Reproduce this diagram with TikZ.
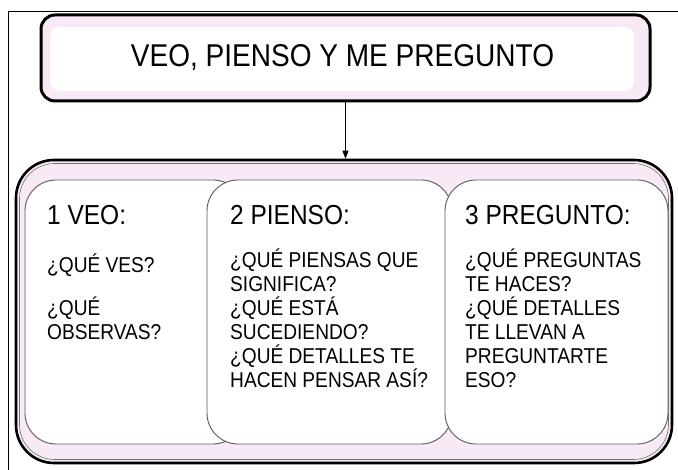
\documentclass[tikz,border=0pt]{standalone}
\usepackage{fontspec}
\setmainfont[FakeStretch=0.89]{Liberation Sans}
\usetikzlibrary{arrows.meta}
\definecolor{pinkfill}{RGB}{248,233,246}
\definecolor{boxgray}{RGB}{90,90,90}
\begin{document}
\begin{tikzpicture}[x=1pt,y=-1pt,
  titlebox/.style={draw=black, line width=3pt, fill=pinkfill, rounded corners=14pt,
    minimum width=609pt, minimum height=86pt, inner sep=0pt},
  titlewhite/.style={fill=white, rounded corners=10pt, minimum width=584pt,
    minimum height=64pt, inner sep=0pt},
  outerbox/.style={draw=black, line width=2.6pt, fill=pinkfill, rounded corners=38pt,
    minimum width=656pt, minimum height=303pt, inner sep=0pt},
  outerline/.style={draw=black!55, line width=0.6pt, rounded corners=35pt,
    minimum width=649pt, minimum height=296pt, inner sep=0pt},
  panel/.style={draw=boxgray, line width=0.9pt, fill=white, rounded corners=31pt,
    minimum height=264pt, inner sep=0pt},
  titletxt/.style={anchor=base, inner sep=0pt, font=\fontsize{31.5}{36}\selectfont},
  headtxt/.style={anchor=base west, inner sep=0pt, font=\fontsize{27.5}{32}\selectfont},
  bodytxt/.style={anchor=base west, inner sep=0pt, font=\fontsize{21.5}{24}\selectfont},
  link/.style={draw=black, line width=0.8pt, -{Triangle[length=8pt,width=6pt]}}
]
\useasboundingbox (0,0) rectangle (678,470);
% page frame
\draw[line width=1.3pt] (8.5,470) -- (8.5,11.5) -- (678,11.5);

% title
\node[titlebox] (title) at (345.5,58) {};
\node[titlewhite] (titlein) at (342,59) {};
\node[titletxt] (titletext) at (342.5,67) {VEO, PIENSO Y ME PREGUNTO};

% outer container
\node[outerbox] (outer) at (344,311.5) {};
\node[outerline] (outerin) at (344,311.5) {};

% arrow
\draw[link] (title.south) -- (title.south |- outer.north);

% panels
\node[panel, minimum width=219pt] (p1) at (134.5,312) {};
\node[panel, minimum width=245pt] (p2) at (329.5,312) {};
\node[panel, minimum width=223pt] (p3) at (556.5,312) {};

% panel 1
\node[headtxt] (h1) at (47,225) {1 VEO:};
\node[bodytxt] (a1) at (47,273) {¿QUÉ VES?};
\node[bodytxt] (a2) at (47,316) {¿QUÉ};
\node[bodytxt] (a3) at (47,340) {OBSERVAS?};

% panel 2
\node[headtxt] (h2) at (230,225) {2 PIENSO:};
\node[bodytxt] (b1) at (230,268) {¿QUÉ PIENSAS QUE};
\node[bodytxt] (b2) at (230,292) {SIGNIFICA?};
\node[bodytxt] (b3) at (230,316) {¿QUÉ ESTÁ};
\node[bodytxt] (b4) at (230,340) {SUCEDIENDO?};
\node[bodytxt] (b5) at (230,364) {¿QUÉ DETALLES TE};
\node[bodytxt] (b6) at (230,388) {HACEN PENSAR ASÍ?};

% panel 3
\node[headtxt] (h3) at (465,225) {3 PREGUNTO:};
\node[bodytxt] (c1) at (465,268) {¿QUÉ PREGUNTAS};
\node[bodytxt] (c2) at (465,292) {TE HACES?};
\node[bodytxt] (c3) at (465,316) {¿QUÉ DETALLES};
\node[bodytxt] (c4) at (465,340) {TE LLEVAN A};
\node[bodytxt] (c5) at (465,364) {PREGUNTARTE};
\node[bodytxt] (c6) at (465,388) {ESO?};
\end{tikzpicture}
\end{document}
